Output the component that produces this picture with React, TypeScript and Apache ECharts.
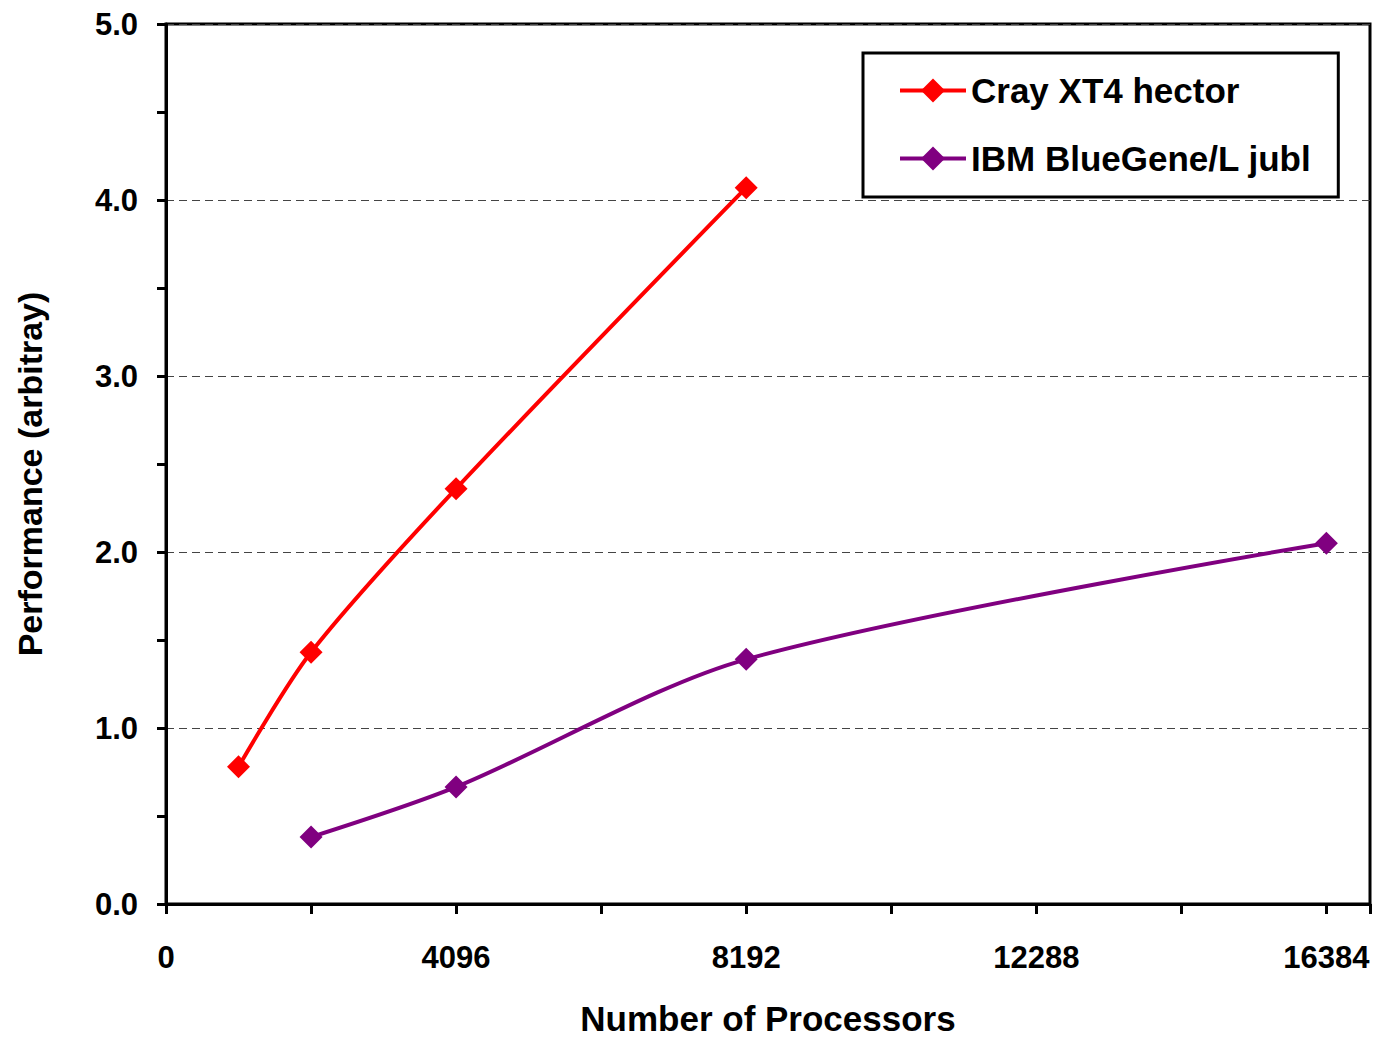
import React, { useEffect, useRef } from "react";
import * as echarts from "echarts";

const crayX = [1024, 2048, 4096, 8192];
const crayY = [0.78, 1.43, 2.36, 4.07];
const ibmX = [2048, 4096, 8192, 16384];
const ibmY = [0.38, 0.665, 1.39, 2.05];
const seriesNames = ["Cray XT4 hector", "IBM BlueGene/L jubl"];
const xAxisTitle = "Number of Processors";
const yAxisTitle = "Performance (arbitray)";

const FONT = "'Liberation Sans', Arial, sans-serif";

export default function App() {
  const ref = useRef<HTMLDivElement>(null);
  useEffect(() => {
    document.body.style.margin = "0";
    const chart = echarts.init(ref.current!, null, { renderer: "svg" });
    const pts = (xs: number[], ys: number[]) => xs.map((x, i) => [x, ys[i]]);
    chart.setOption({
      animation: false,
      backgroundColor: "#fff",
      textStyle: { fontFamily: FONT },
      grid: {
        left: 166,
        top: 24,
        right: 12,
        bottom: 134,
        containLabel: false,
        outerBoundsMode: "none",
        show: true,
        borderColor: "#000",
        borderWidth: 3,
        backgroundColor: "transparent",
      },
      legend: {
        orient: "vertical",
        left: 863,
        top: 53,
        padding: [20, 27, 21, 35],
        itemGap: 33,
        itemWidth: 66,
        itemHeight: 30,
        borderColor: "#000",
        borderWidth: 3,
        backgroundColor: "#fff",
        lineStyle: { width: 4 },
        textStyle: { fontFamily: FONT, fontWeight: "bold", fontSize: 35, color: "#000" },
        data: seriesNames,
      },
      xAxis: {
        type: "value",
        min: 0,
        max: 17000,
        interval: 2048,
        name: xAxisTitle,
        nameLocation: "middle",
        nameGap: 97,
        nameTextStyle: { fontFamily: FONT, fontWeight: "bold", fontSize: 35, color: "#000" },
        axisLine: { show: true, lineStyle: { color: "#000", width: 3 } },
        axisTick: { show: true, inside: false, length: 10, lineStyle: { color: "#000", width: 3 } },
        splitLine: { show: false },
        axisLabel: {
          margin: 38,
          fontFamily: FONT,
          fontWeight: "bold",
          fontSize: 31,
          color: "#000",
          formatter: (v: number) => (v % 4096 === 0 ? String(v) : ""),
        },
      },
      yAxis: {
        type: "value",
        min: 0,
        max: 5,
        interval: 1,
        name: yAxisTitle,
        nameLocation: "middle",
        nameGap: 119,
        nameRotate: 90,
        nameTextStyle: {
          fontFamily: FONT,
          fontWeight: "bold",
          fontSize: 34,
          color: "#000",
          padding: [0, 20, 0, 0],
        },
        axisLine: { show: true, lineStyle: { color: "#000", width: 3 } },
        axisTick: { show: true, inside: false, length: 9, lineStyle: { color: "#000", width: 3 } },
        minorTick: { show: true, splitNumber: 2, length: 9, lineStyle: { color: "#000", width: 3 } },
        minorSplitLine: { show: false },
        splitLine: { show: true, lineStyle: { color: "#444", width: 1, type: [8, 5] } },
        axisLabel: {
          margin: 28,
          fontFamily: FONT,
          fontWeight: "bold",
          fontSize: 31,
          color: "#000",
          formatter: (v: number) => v.toFixed(1),
        },
      },
      series: [
        {
          name: seriesNames[0],
          type: "line",
          data: pts(crayX, crayY),
          smooth: 0.3,
          symbol: "diamond",
          symbolSize: 23,
          lineStyle: { color: "#ff0000", width: 4 },
          itemStyle: { color: "#ff0000" },
        },
        {
          name: seriesNames[1],
          type: "line",
          data: pts(ibmX, ibmY),
          smooth: 0.3,
          symbol: "diamond",
          symbolSize: 23,
          lineStyle: { color: "#800080", width: 4 },
          itemStyle: { color: "#800080" },
        },
      ],
    });
    return () => chart.dispose();
  }, []);
  return <div ref={ref} style={{ width: 1382, height: 1038 }} />;
}
